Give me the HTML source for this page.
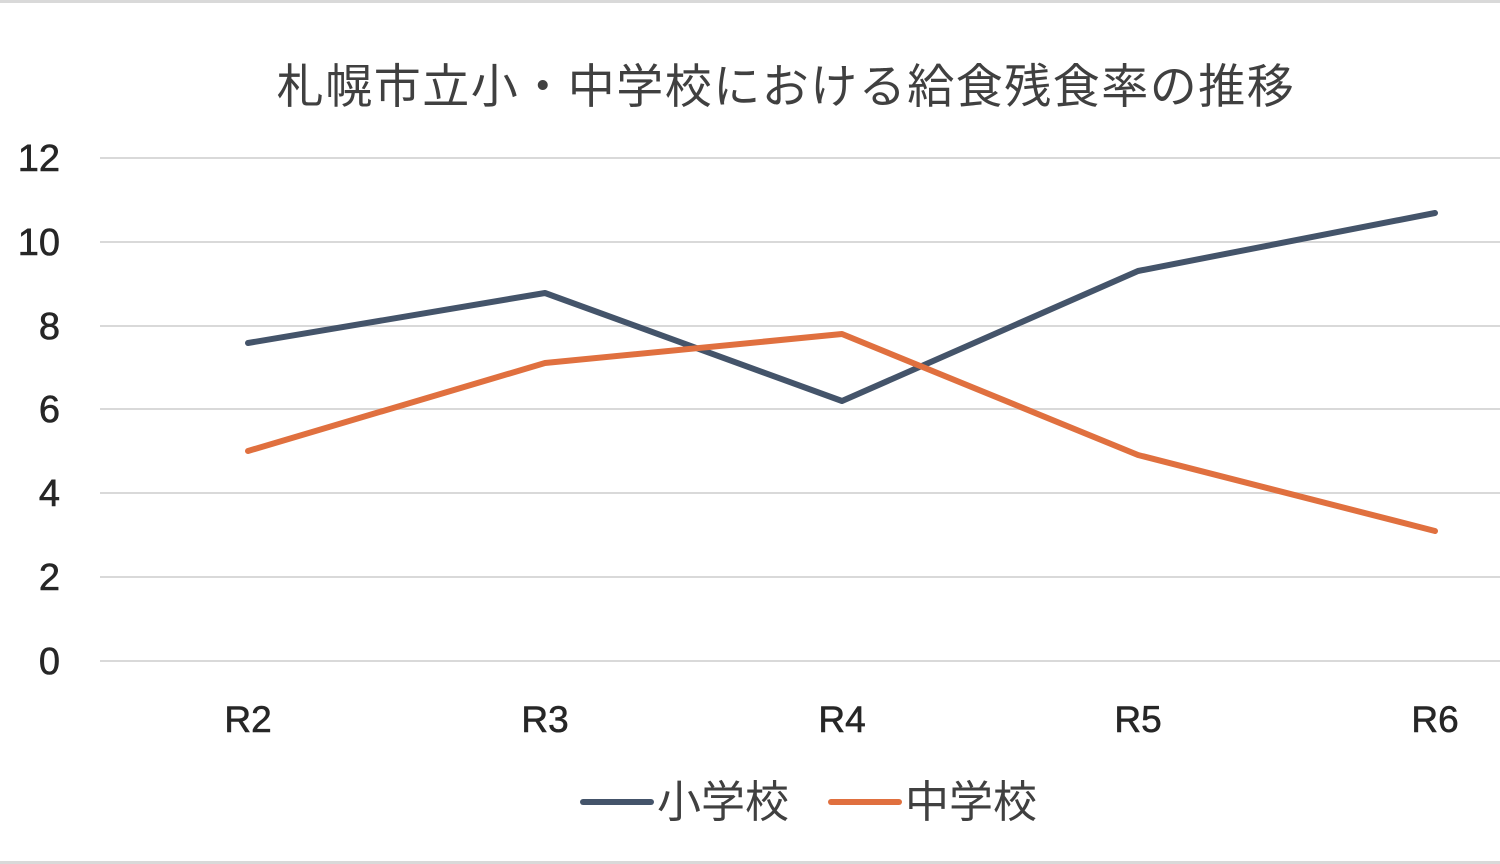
<!DOCTYPE html>
<html><head><meta charset="utf-8"><style>
html,body{margin:0;padding:0;background:#fff;}
svg{display:block;}
</style></head><body>
<svg width="1500" height="864" viewBox="0 0 1500 864" xmlns="http://www.w3.org/2000/svg">
<rect x="0" y="0" width="1500" height="864" fill="#fff"/>
<line x1="0" y1="1.5" x2="1500" y2="1.5" stroke="#d9d9d9" stroke-width="3"/>
<line x1="0" y1="862.5" x2="1500" y2="862.5" stroke="#d9d9d9" stroke-width="3"/>
<text x="786" y="103" text-anchor="middle" font-family="'Liberation Sans','Noto Sans CJK JP',sans-serif" font-size="47" fill="#404040" letter-spacing="1.5">札幌市立小・中学校における給食残食率の推移</text>
<g stroke="#d9d9d9" stroke-width="2">
<line x1="100" y1="158" x2="1500" y2="158"/>
<line x1="100" y1="242" x2="1500" y2="242"/>
<line x1="100" y1="326" x2="1500" y2="326"/>
<line x1="100" y1="409" x2="1500" y2="409"/>
<line x1="100" y1="493" x2="1500" y2="493"/>
<line x1="100" y1="577" x2="1500" y2="577"/>
<line x1="100" y1="661" x2="1500" y2="661"/>
</g>
<g font-family="'Liberation Sans',sans-serif" font-size="38" fill="#262626" text-anchor="end" stroke="#262626" stroke-width="0.6">
<text x="60" y="171">12</text>
<text x="60" y="255">10</text>
<text x="60" y="339">8</text>
<text x="60" y="422">6</text>
<text x="60" y="506">4</text>
<text x="60" y="590">2</text>
<text x="60" y="674">0</text>
</g>
<g font-family="'Liberation Sans',sans-serif" font-size="37" fill="#262626" text-anchor="middle" stroke="#262626" stroke-width="0.6">
<text x="248" y="732">R2</text>
<text x="545" y="732">R3</text>
<text x="842" y="732">R4</text>
<text x="1138" y="732">R5</text>
<text x="1435" y="732">R6</text>
</g>
<polyline points="248,343 545,293 842,401 1138,271 1435,213" fill="none" stroke="#44546a" stroke-width="6" stroke-linejoin="round" stroke-linecap="round"/>
<polyline points="248,451 545,363 842,334 1138,455 1435,531" fill="none" stroke="#e0703f" stroke-width="6" stroke-linejoin="round" stroke-linecap="round"/>
<line x1="583" y1="802" x2="651" y2="802" stroke="#44546a" stroke-width="6" stroke-linecap="round"/>
<text x="657" y="817" font-family="'Liberation Sans','Noto Sans CJK JP',sans-serif" font-size="44" fill="#404040">小学校</text>
<line x1="831" y1="802" x2="899" y2="802" stroke="#e0703f" stroke-width="6" stroke-linecap="round"/>
<text x="905" y="817" font-family="'Liberation Sans','Noto Sans CJK JP',sans-serif" font-size="44" fill="#404040">中学校</text>
</svg>
</body></html>
